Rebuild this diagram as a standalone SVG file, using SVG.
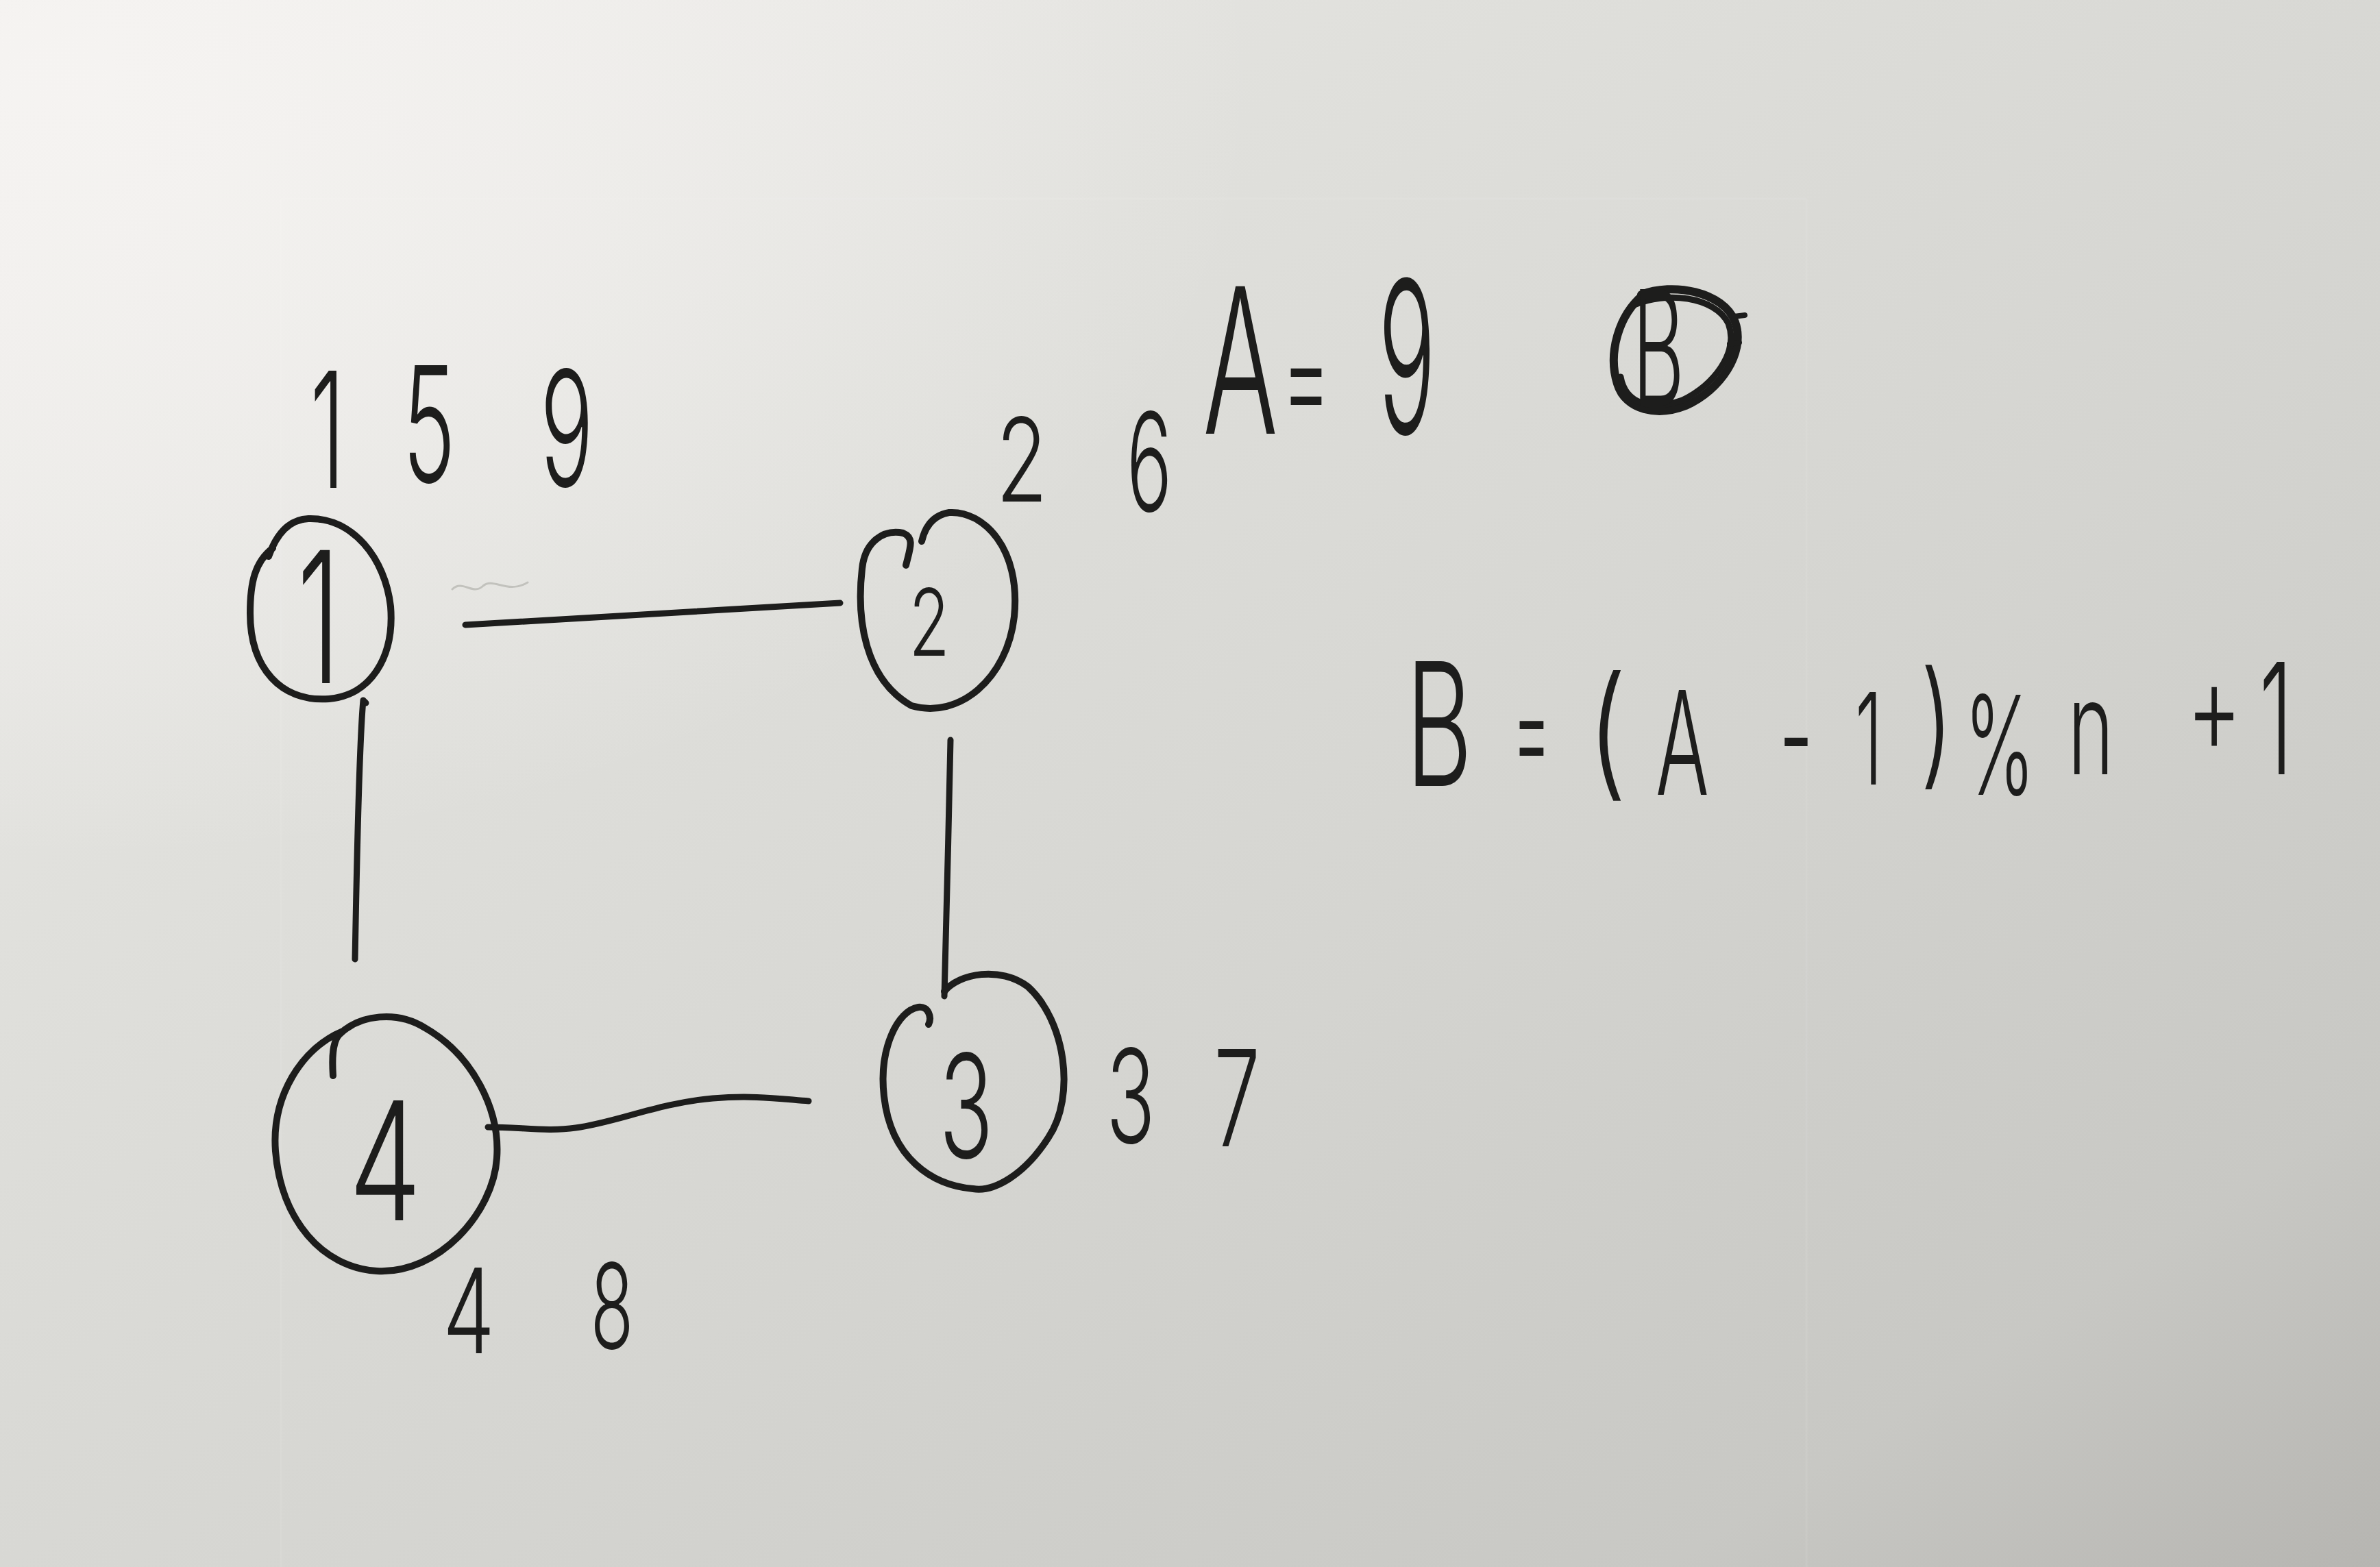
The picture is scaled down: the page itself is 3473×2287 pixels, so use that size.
<svg xmlns="http://www.w3.org/2000/svg" width="3473" height="2287" viewBox="0 0 3473 2287">
<defs>
<linearGradient id="paper" x1="0" y1="0" x2="1" y2="1">
<stop offset="0" stop-color="#f1efed"/>
<stop offset="0.3" stop-color="#e0e0dc"/>
<stop offset="0.6" stop-color="#d4d4d0"/>
<stop offset="0.85" stop-color="#c8c8c4"/>
<stop offset="1" stop-color="#b6b5b1"/>
</linearGradient>
<radialGradient id="glow" cx="0.03" cy="0.05" r="0.5">
<stop offset="0" stop-color="#f6f4f2" stop-opacity="0.9"/>
<stop offset="1" stop-color="#f6f4f2" stop-opacity="0"/>
</radialGradient>
<style>
.ink{fill:none;stroke:#1d1d1c;stroke-linecap:round;stroke-linejoin:round}
.node{stroke-width:10}
.edge{stroke-width:9}
.hw{font-family:Inter,"Liberation Sans","DejaVu Sans",sans-serif;font-weight:300;fill:#1d1d1c;text-anchor:middle}
.fold{stroke:#ffffff;stroke-opacity:0.08;stroke-width:3;fill:none}
</style>
</defs>

<rect x="0" y="0" width="3473" height="2287" fill="url(#paper)"/>
<rect x="0" y="0" width="3473" height="2287" fill="url(#glow)"/>
<path class="fold" d="M410,290 L410,2287 M2636,290 L2636,2287 M410,290 L2636,290"/>
<path d="M660,860 C675,845 690,870 705,855 C720,842 740,868 770,850" fill="none" stroke="#c2c2bd" stroke-width="3" stroke-linecap="round"/>

<g id="connectors">
<path id="e1-2" class="ink edge" d="M679,912 C800,906 1000,892 1226,880"/>
<path id="e1-4" class="ink edge" d="M534,1026 L530,1022 C523,1100 520,1300 518,1400"/>
<path id="e2-3" class="ink edge" d="M1387,1080 C1385,1200 1380,1350 1378,1454"/>
<path id="e4-3" class="ink edge" d="M712,1645 C760,1645 800,1652 840,1646 C900,1638 960,1610 1040,1603 C1100,1598 1140,1604 1180,1607"/>
</g>

<g id="node-1">
<path class="ink node" d="M392,812 C405,775 425,758 450,757 C515,755 562,815 570,885 C576,960 540,1015 480,1020 C410,1025 365,975 365,895 C365,850 372,820 398,800"/>
<text class="hw" transform="translate(465,997) scale(0.6,1)" font-size="267">1</text>
</g>

<g id="node-2">
<path class="ink node" d="M1322,825 C1328,800 1335,785 1318,778 C1290,772 1262,790 1258,830 C1250,900 1260,990 1330,1030 C1400,1050 1470,990 1480,900 C1490,800 1435,745 1385,748 C1362,752 1350,768 1345,790"/>
<text class="hw" transform="translate(1356,957) scale(0.72,1)" font-size="135">2</text>
</g>

<g id="node-3">
<path class="ink node" d="M1378,1447 C1400,1420 1460,1410 1500,1440 C1555,1490 1570,1600 1530,1660 C1495,1715 1450,1740 1420,1735 C1360,1730 1300,1690 1290,1600 C1282,1530 1310,1475 1340,1470 C1355,1468 1360,1485 1355,1495"/>
<text class="hw" transform="translate(1410,1690) scale(0.62,1)" font-size="210">3</text>
</g>

<g id="node-4">
<path class="ink node" d="M486,1570 C484,1540 486,1520 495,1510 C525,1480 580,1475 620,1500 C690,1540 730,1620 725,1690 C720,1770 640,1860 550,1855 C470,1850 410,1780 402,1680 C396,1600 440,1530 500,1505"/>
<text class="hw" transform="translate(562,1781) scale(0.7,1)" font-size="240">4</text>
</g>

<g id="labels">
<g transform="translate(0,712)">
<text class="hw" font-size="235" transform="translate(478,0) scale(0.55,1)">1</text>
<text class="hw" font-size="235" transform="translate(626,-8) scale(0.55,1)">5</text>
<text class="hw" font-size="235" transform="translate(827,-2) scale(0.55,1)">9</text>
</g>
<g transform="translate(0,742)">
<text class="hw" font-size="170" transform="translate(1491,-10) scale(0.72,1)">2</text>
<text class="hw" font-size="200" transform="translate(1677,4) scale(0.55,1)">6</text>
</g>
<g transform="translate(0,633)">
<text class="hw" font-size="296" transform="translate(1810,0) scale(0.55,1)">A</text>
<text class="hw" font-size="200" transform="translate(1906,-12) scale(0.55,1)">=</text>
<text class="hw" font-size="310" transform="translate(2053,0) scale(0.45,1)">9</text>
</g>
<g id="circled-b">
<path class="ink" stroke-width="12" d="M2395,430 C2440,412 2515,425 2532,470 C2548,515 2510,570 2460,592 C2420,608 2372,600 2360,560 C2346,515 2362,460 2398,430"/>
<path class="ink" stroke-width="9" d="M2385,445 C2430,425 2502,432 2522,472 C2538,515 2500,562 2455,584 C2410,600 2372,590 2365,550"/>
<path class="ink" stroke-width="8" d="M2530,462 L2546,460 M2524,502 L2538,500"/>
<text class="hw" font-size="234" font-weight="500" transform="translate(2420,592) scale(0.5,1)">B</text>
</g>
<g transform="translate(0,1150)">
<text class="hw" font-size="250" transform="translate(2100,-3) scale(0.6,1)">B</text>
<text class="hw" font-size="190" transform="translate(2235,-18) scale(0.45,1)">=</text>
<text class="hw" font-size="210" transform="translate(2345,-10) scale(0.8,1)">(</text>
<text class="hw" font-size="210" transform="translate(2455,10) scale(0.55,1)">A</text>
<text class="hw" font-size="200" transform="translate(2621,-5) scale(0.55,1)">-</text>
<text class="hw" font-size="185" transform="translate(2727,-5) scale(0.55,1)">1</text>
<text class="hw" font-size="200" transform="translate(2826,-25) scale(0.7,1)">)</text>
<text class="hw" font-size="200" transform="translate(2918,10) scale(0.55,1)">%</text>
<text class="hw" font-size="190" transform="translate(3051,-20) scale(0.6,1)">n</text>
<text class="hw" font-size="190" transform="translate(3231,-50) scale(0.65,1)">+</text>
<text class="hw" font-size="225" transform="translate(3321,-20) scale(0.55,1)">1</text>
</g>
<g transform="translate(0,1668)">
<text class="hw" font-size="190" transform="translate(1650,0) scale(0.62,1)">3</text>
<text class="hw" font-size="195" transform="translate(1805,5) scale(0.62,1)">7</text>
</g>
<g transform="translate(0,1972)">
<text class="hw" font-size="172" transform="translate(684,3) scale(0.7,1)">4</text>
<text class="hw" font-size="172" transform="translate(893,-4) scale(0.6,1)">8</text>
</g>
</g>
</svg>
